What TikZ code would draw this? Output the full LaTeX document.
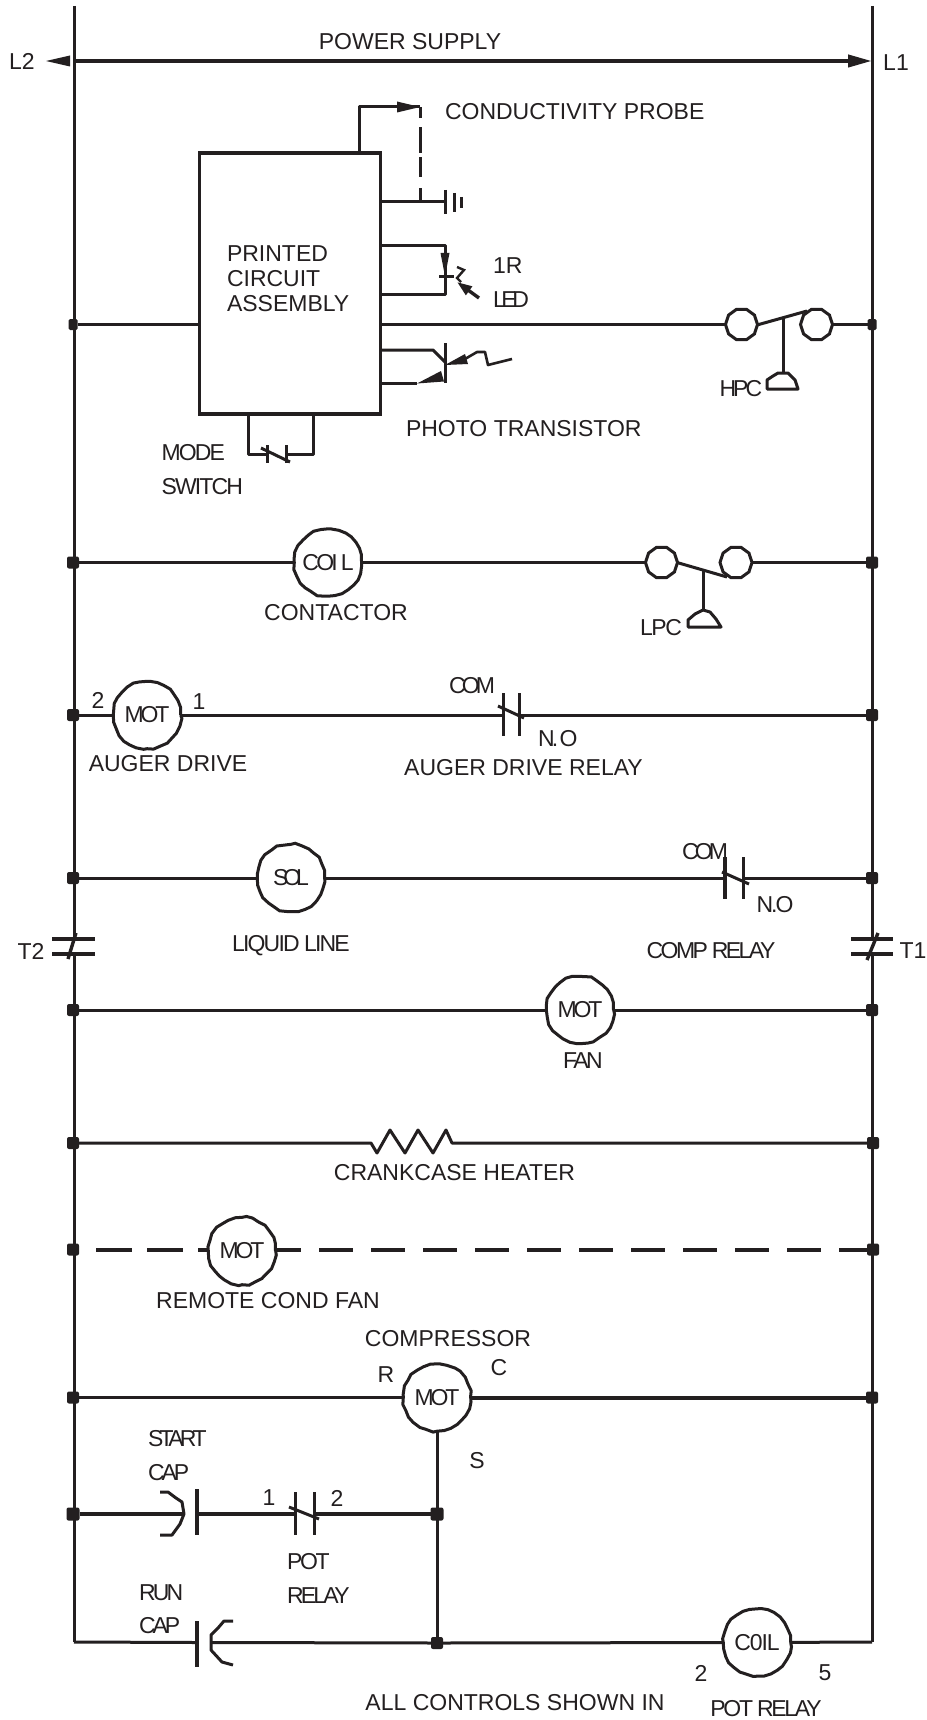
\documentclass[tikz,border=0pt]{standalone}
\usepackage{fontspec}
\setmainfont{Liberation Sans}
\usetikzlibrary{arrows.meta,shapes.geometric,decorations.pathmorphing}
\definecolor{ink}{HTML}{231F20}
\newcommand\sq[2]{{\addfontfeature{LetterSpace=#1}#2}}
\pgfmathsetseed{11}
\tikzset{
  wire/.style={draw=ink,line width=3pt,line join=round},
  hwire/.style={draw=ink,line width=4pt,line join=round},
  lbl/.style={inner sep=0pt,outer sep=0pt,text=ink,font=\fontsize{23}{27}\selectfont},
  bigdev/.style={circle,draw=ink,line width=3pt,minimum size=67pt,inner sep=0pt,outer sep=0pt,text=ink,font=\fontsize{23}{27}\selectfont,decorate,decoration={random steps,segment length=7pt,amplitude=0.8pt}},
  smalldev/.style={regular polygon,regular polygon sides=10,draw=ink,line width=3pt,minimum size=32pt,inner sep=0pt,outer sep=0pt},
  jdot/.style={rectangle,rounded corners=2pt,fill=ink,minimum size=12pt,inner sep=0pt,outer sep=0pt},
  sdot/.style={rectangle,rounded corners=1.5pt,fill=ink,minimum width=9pt,minimum height=11pt,inner sep=0pt,outer sep=0pt},
  pcbbox/.style={rectangle,draw=ink,line width=3.4pt,minimum width=181pt,minimum height=261pt,inner sep=0pt,outer sep=0pt},
  bell/.style={draw=ink,line width=3pt,line join=round,fill=white}
}
\begin{document}
\begin{tikzpicture}[x=1pt,y=-1pt]
\useasboundingbox (0,0) rectangle (926,1720);
\fill[white] (0,0) rectangle (926,1720);
% rails
\coordinate (lt) at (74,6); \coordinate (rt) at (872,6);
\coordinate (lta) at (74,939); \coordinate (ltb) at (74,954);
\coordinate (rta) at (872,939); \coordinate (rtb) at (872,954);
\coordinate (lb) at (74,1642); \coordinate (rb) at (872,1642);
\draw[wire] (lt) -- (lta);
\draw[wire] (rt) -- (rta);
\draw[wire] (ltb) -- (lb);
\draw[wire] (rtb) -- (rb);
% power supply
\coordinate (pl) at (74,61); \coordinate (pr) at (872,61);
\draw[hwire,-{Triangle[length=24pt,width=12pt]}] (pl) -- (pr);
\fill[ink] (70,55.5) -- (46,61) -- (70,66.5) -- cycle;
\node[lbl] (tpower) at (410,42) {POWER SUPPLY};
\node[lbl] (tl2) at (22,61) {L2};
\node[lbl] (tl1) at (896,63) {L1};
% pcb
\node[pcbbox] (pcb) at (290.2,283.5) {};
\node[lbl,anchor=west] (tpa) at (227,254) {PRINTED};
\node[lbl,anchor=west] (tpb) at (227,279) {CIRCUIT};
\node[lbl,anchor=west] (tpc) at (227,304) {ASSEMBLY};
% probe
\coordinate (pc1) at (359,107); \coordinate (pc2) at (420,107);
\draw[wire] (pc1 |- pcb.north) -- (pc1) -- (pc2);
\fill[ink] (420,107) -- (397,101.5) -- (397,112.5) -- cycle;
\node[lbl,anchor=west] (tcond) at (445,112) {CONDUCTIVITY PROBE};
\coordinate (gnd) at (445,202); \coordinate (gj) at (420,202);
\draw[wire] (gnd -| pcb.east) -- (gnd);
\draw[draw=ink,line width=3pt,dash pattern=on 14pt off 11pt on 20pt off 4pt on 26pt off 9pt on 11pt] (gj) -- (pc2);
\draw[wire] (445,190) -- (445,214);
\draw[wire] (454,193) -- (454,212);
\draw[wire] (461,197) -- (461,208);
% LED
\coordinate (lda) at (445,246); \coordinate (ldb) at (445,294);
\draw[wire] (lda -| pcb.east) -- (lda) -- (ldb) -- (ldb -| pcb.east);
\fill[ink] (440.5,253) -- (449.5,253) -- (445,276) -- cycle;
\draw[wire] (439,276) -- (454,276);
\draw[draw=ink,line width=2.4pt] (457,267) -- (464,270) -- (457,278) -- (461,282);
\draw[draw=ink,line width=3.4pt,-{Triangle[length=15pt,width=10pt]}] (479,298) -- (457,282);
\node[lbl,anchor=west] (t1r) at (493,266) {1R};
\node[lbl,anchor=west] (tled) at (493,300) {\sq{-19}{LED}};
% phototransistor
\coordinate (pta) at (433,350); \coordinate (ptb) at (417,383);
\draw[wire] (pta -| pcb.east) -- (pta) -- (445,362);
\draw[wire] (ptb -| pcb.east) -- (ptb);
\draw[wire] (445,343) -- (445,383);
\fill[ink] (417,383.5) -- (441,371) -- (444,381.5) -- cycle;
\fill[ink] (445,365) -- (465,354) -- (468,364) -- cycle;
\draw[draw=ink,line width=2.6pt,line join=round] (465,359) -- (477,352) -- (485,352) -- (488,365) -- (512,359);
\node[lbl,anchor=west] (tphoto) at (406,429) {PHOTO TRANSISTOR};
% mode switch
\coordinate (msl) at (248.5,454); \coordinate (msr) at (313,454);
\coordinate (msa) at (267,454); \coordinate (msb) at (286,454);
\draw[wire] (msl |- pcb.south) -- (msl) -- (msa);
\draw[wire] (msr |- pcb.south) -- (msr) -- (msb);
\draw[wire] (267,445) -- (267,463);
\draw[wire] (286,445) -- (286,463);
\draw[wire] (261,448) -- (290,462);
\node[lbl,anchor=west] (tmode) at (161.5,453) {\sq{-8}{MODE}};
\node[lbl,anchor=west] (tsw) at (161.5,487) {\sq{-8}{SWITCH}};
% row HPC
\node[sdot] (d1l) at (73,324.5) {};
\node[sdot] (d1r) at (872,324.5) {};
\node[smalldev] (hc1) at (741.5,324.5) {};
\node[smalldev] (hc2) at (816.5,324.5) {};
\draw[hwire,line width=3.4pt] (d1l) -- (d1l -| pcb.west);
\draw[hwire,line width=3.4pt] (d1l -| pcb.east) -- (hc1);
\draw[wire] (hc2) -- (d1r);
\coordinate (hla) at (757,325); \coordinate (hlb) at (807,311);
\draw[wire] (hla) -- (hlb);
\coordinate (hv) at (783,318); \coordinate (hvb) at (783,373);
\draw[wire] (hv) -- (hvb);
\draw[bell] (767,389) -- (767,380) -- (773,376) -- (778,373) -- (788,373) -- (795,380) -- (798,389) -- cycle;
\node[lbl,anchor=west] (thpc) at (719.5,389) {\sq{-13}{HPC}};
% row contactor
\node[jdot] (d2l) at (73,562.5) {};
\node[jdot] (d2r) at (872,562.5) {};
\node[bigdev] (coil) at (328,562.5) {\raisebox{-3pt}{\sq{-12}{COI\kern3pt L}}};
\node[smalldev] (lc1) at (661.5,562.5) {};
\node[smalldev] (lc2) at (736,562.5) {};
\draw[wire] (d2l) -- (coil);
\draw[wire] (coil) -- (lc1);
\draw[wire] (lc2) -- (d2r);
\coordinate (lla) at (677,562.5); \coordinate (llb) at (727,577);
\draw[wire] (lla) -- (llb);
\coordinate (lv) at (703,570); \coordinate (lvb) at (703,610);
\draw[wire] (lv) -- (lvb);
\draw[bell] (688,627) -- (688,620) -- (695,614) -- (703,610) -- (710,612) -- (716,619) -- (721,627) -- cycle;
\node[lbl] (tcontact) at (336,613) {CONTACTOR};
\node[lbl,anchor=west] (tlpc) at (640,628) {\sq{-6}{LPC}};
% row auger
\node[jdot] (d3l) at (73,715) {};
\node[jdot] (d3r) at (872,715) {};
\node[bigdev] (auger) at (147,715) {\raisebox{-2pt}{\sq{-14}{MOT}}};
\coordinate (aga) at (503,715); \coordinate (agb) at (519,715);
\draw[wire] (d3l) -- (auger);
\draw[wire] (auger) -- (aga);
\draw[wire] (agb) -- (d3r);
\draw[wire] (503,693) -- (503,736);
\draw[wire] (519,693) -- (519,736);
\draw[wire] (498,706) -- (524,718);
\node[lbl] (t2a) at (98,700) {2};
\node[lbl] (t1a) at (199,702) {1};
\node[lbl] (tauger) at (168,764) {AUGER DRIVE};
\node[lbl] (tcoma) at (472,686) {\sq{-17}{COM}};
\node[lbl,anchor=west] (tnoa) at (538,739) {\sq{-12}{N.\kern1.5pt O}};
\node[lbl] (tadr) at (523.5,768) {AUGER DRIVE RELAY};
% row sol
\node[jdot] (d4l) at (73,878) {};
\node[jdot] (d4r) at (872,878) {};
\node[bigdev] (sol) at (291,878) {\sq{-22}{SOL}};
\coordinate (coa) at (725,878); \coordinate (cob) at (743,878);
\draw[wire] (d4l) -- (sol);
\draw[wire] (sol) -- (coa);
\draw[wire] (cob) -- (d4r);
\draw[hwire] (725,857) -- (725,899);
\draw[wire] (743,857) -- (743,899);
\draw[wire] (722,872) -- (749,884);
\node[lbl] (tcomb) at (705,852) {\sq{-17}{COM}};
\node[lbl] (tnob) at (775,905) {\sq{-9}{N.O}};
\node[lbl] (tliq) at (291,946) {\sq{-8}{LIQUID LINE}};
\node[lbl] (tcomp) at (711,951) {\sq{-11}{COMP RELAY}};
% T2 T1
\draw[hwire,line width=3.4pt] (52,939) -- (95,939);
\draw[hwire,line width=3.4pt] (52,954) -- (95,954);
\draw[hwire,line width=3.4pt] (76,933) -- (68,959);
\draw[hwire,line width=3.4pt] (851,939) -- (893,939);
\draw[hwire,line width=3.4pt] (851,954) -- (893,954);
\draw[hwire,line width=3.4pt] (878,933) -- (867,960);
\node[lbl] (tt2) at (31,951) {T2};
\node[lbl] (tt1) at (913,951) {T1};
% row fan
\node[jdot] (d5l) at (73,1010) {};
\node[jdot] (d5r) at (872,1010) {};
\node[bigdev] (fan) at (580,1010) {\raisebox{-1pt}{\sq{-14}{MOT}}};
\draw[wire] (d5l) -- (fan);
\draw[wire] (fan) -- (d5r);
\node[lbl] (tfan) at (583,1061) {\sq{-11}{FAN}};
% row heater
\node[jdot] (d6l) at (73,1143) {};
\node[jdot] (d6r) at (873,1143) {};
\coordinate (hta) at (371,1143); \coordinate (htb) at (452,1143);
\draw[wire] (d6l) -- (hta) -- (377,1153) -- (390,1130) -- (405,1153) -- (418,1130) -- (433,1153) -- (446,1130) -- (htb) -- (d6r);
\node[lbl] (theat) at (454.5,1173) {CRANKCASE HEATER};
% row remote
\node[jdot] (d7l) at (73,1249.5) {};
\node[jdot] (d7r) at (873,1249.5) {};
\node[bigdev] (rem) at (242,1251) {\raisebox{-2pt}{\sq{-14}{MOT}}};
\coordinate (rda) at (96,1249.5); \coordinate (rdb) at (277,1249.5); \coordinate (rdc) at (208,1249.5);
\draw[draw=ink,line width=4pt,dash pattern=on 36pt off 15pt] (rda) -- (rdc);
\draw[draw=ink,line width=4pt,dash pattern=on 34pt off 18pt,dash phase=10pt] (rdb) -- (d7r);
\node[lbl] (trem) at (268,1301) {REMOTE COND FAN};
% row compressor
\node[jdot] (d8l) at (73,1397.5) {};
\node[jdot] (d8r) at (872,1397.5) {};
\node[bigdev] (cmp) at (437,1397.5) {\sq{-14}{MOT}};
\draw[wire] (d8l) -- (cmp);
\draw[hwire] (cmp) -- (d8r);
\node[lbl] (tcmp) at (448,1339) {COMPRESSOR};
\node[lbl] (tr) at (386,1375) {R};
\node[lbl] (tc) at (499,1368) {C};
\node[lbl] (ts) at (477,1461) {S};
% start row
\node[jdot,minimum size=13pt] (d9l) at (73,1514) {};
\node[jdot,minimum size=13pt] (d9m) at (437,1514) {};
\coordinate (sca) at (184,1514); \coordinate (scb) at (197,1514);
\coordinate (ra) at (295,1514); \coordinate (rb2) at (314,1514);
\draw[hwire,line width=3.4pt] (d9l) -- (sca);
\draw[hwire,line width=3.4pt] (scb) -- (ra);
\draw[hwire,line width=3.4pt] (rb2) -- (d9m);
\draw[wire] (160,1492) -- (168,1492) -- (176,1498) -- (182,1502) -- (184,1514) -- (180,1524) -- (172,1535) -- (160,1535);
\draw[hwire] (197,1489) -- (197,1535);
\draw[wire] (295,1492) -- (295,1535);
\draw[wire] (314,1492) -- (314,1535);
\draw[wire] (289,1507) -- (319,1519);
\node[lbl] (t1b) at (269,1498) {1};
\node[lbl] (t2b) at (337,1498) {2};
\node[lbl,anchor=west] (tstart) at (148,1439) {\sq{-16}{START}};
\node[lbl,anchor=west] (tcapa) at (148,1473) {\sq{-13}{CAP}};
\node[lbl,anchor=west] (tpot) at (287,1562) {\sq{-10}{POT}};
\node[lbl,anchor=west] (trel) at (287,1596) {\sq{-12}{RELAY}};
% run row
\node[jdot] (d10) at (437,1643) {};
\node[bigdev] (pcoil) at (757,1642.5) {\raisebox{-4pt}{\sq{-5}{C0IL}}};
\coordinate (rca) at (197,1642.5); \coordinate (rcb) at (211,1642.5);
\draw[wire] (cmp) -- (d10);
\draw[wire] (lb) -- (rca);
\draw[wire] (rcb) -- (d10);
\draw[wire] (d10) -- (pcoil);
\draw[wire] (pcoil) -- (rb);
\draw[hwire] (197,1621) -- (197,1667);
\draw[wire] (233,1621) -- (224,1621) -- (218,1628) -- (211,1635) -- (211,1650) -- (222,1662) -- (233,1665);
\node[lbl,anchor=west] (trun) at (139,1593) {\sq{-12}{RUN}};
\node[lbl,anchor=west] (tcapb) at (139,1626) {\sq{-13}{CAP}};
\node[lbl] (t2c) at (701,1673) {2};
\node[lbl] (t5c) at (825,1673) {5};
\node[lbl] (tall) at (515,1703) {ALL CONTROLS SHOWN IN};
\node[lbl] (tpr) at (766,1709) {\sq{-10}{POT RELAY}};
\end{tikzpicture}
\end{document}
